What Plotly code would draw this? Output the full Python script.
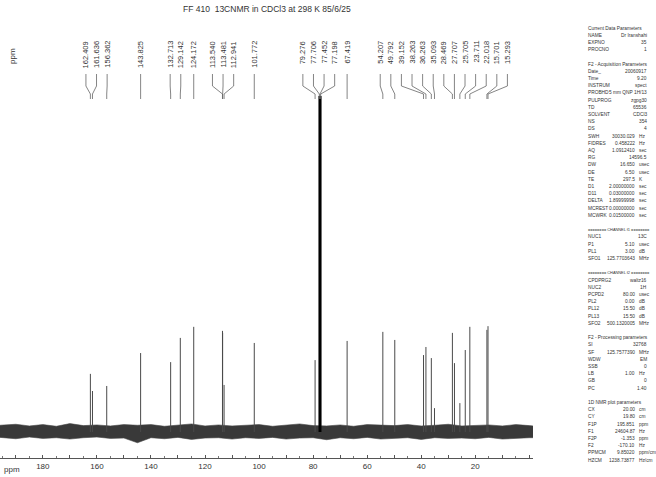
import plotly.graph_objects as go

W, H = 656, 477

# ---------------- data ----------------
peak_ppm = [162.409, 161.636, 156.362, 143.825, 132.713, 129.142, 124.172,
            113.540, 113.481, 112.941, 101.772, 79.276, 77.706, 77.452, 77.198,
            67.419, 54.207, 49.792, 39.152, 38.263, 36.263, 35.093, 28.469,
            27.707, 25.705, 23.711, 22.018, 15.701, 15.293]
peak_int = [17.3, 12.2, 13.7, 23.5, 20.8, 28.0, 31.3,
            30.1, 29.5, 14.0, 26.5, 21.4, 100, 100, 100,
            27.1, 29.8, 27.4, 22.9, 25.3, 22.0, 7.1, 29.5,
            20.5, 8.6, 24.4, 31.3, 30.4, 31.5]

noise_ppm = [195.85, 190, 185, 180, 175, 170, 165, 160, 155, 150, 145, 140, 135, 130,
             125, 120, 115, 110, 105, 100, 95, 90, 85, 80, 75, 70, 65, 60, 55, 50,
             45, 40, 35, 30, 25, 20, 15, 10, 5, 0, -1.35]
noise_upper = [2.0, 2.3, 1.8, 2.2, 1.7, 2.5, 1.9, 2.1, 1.8, 2.2, 2.0, 2.2, 1.7, 2.0,
               2.4, 1.8, 2.1, 1.8, 2.0, 2.2, 1.7, 2.0, 2.4, 1.9, 1.8, 2.1, 1.7, 2.2,
               2.0, 1.9, 2.2, 1.8, 2.0, 2.3, 1.8, 2.0, 2.1, 1.8, 2.2, 1.9, 1.8]
noise_lower = [-1.6, -2.0, -1.5, -1.9, -1.7, -2.1, -1.7, -1.5, -1.9, -1.8, -3.2, -1.7,
               -2.0, -1.6, -2.2, -1.8, -1.7, -2.1, -1.7, -1.9, -1.6, -2.1, -1.8, -1.7,
               -2.3, -1.7, -2.0, -1.6, -2.1, -1.9, -1.7, -2.2, -1.7, -1.9, -1.8, -2.0,
               -1.6, -2.1, -1.8, -1.7, -1.7]

tick_vals = [0, 10, 20, 30, 40, 50, 60, 70, 80, 90, 100, 110, 120, 130, 140, 150,
             160, 170, 180, 190]
tick_labels = ["", "", "20", "", "40", "", "60", "", "80", "", "100", "", "120", "",
               "140", "", "160", "", "180", ""]

title_text = "FF 410\u00a0\u00a013CNMR in CDCl3 at 298 K 85/6/25"
F1P, F2P = 195.851, -1.353

param_names = ["Current Data Parameters", "NAME", "EXPNO", "PROCNO", "",
               "F2 - Acquisition Parameters", "Date_", "Time", "INSTRUM", "PROBHD",
               "PULPROG", "TD", "SOLVENT", "NS", "DS", "SWH", "FIDRES", "AQ", "RG",
               "DW", "DE", "TE", "D1", "D11", "DELTA", "MCREST", "MCWRK", "",
               "======== CHANNEL f1 ========", "NUC1", "P1", "PL1", "SFO1", "",
               "======== CHANNEL f2 ========", "CPDPRG2", "NUC2", "PCPD2", "PL2",
               "PL12", "PL13", "SFO2", "",
               "F2 - Processing parameters", "SI", "SF", "WDW", "SSB", "LB", "GB",
               "PC", "", "1D NMR plot parameters", "CX", "CY", "F1P", "F1", "F2P",
               "F2", "PPMCM", "HZCM"]
param_values = ["", "Dr Iranshahi", "35", "1", "",
                "", "20060917", "9.20", "spect", "5 mm QNP 1H/13",
                "zgpg30", "65536", "CDCl3", "354", "4", "30030.029", "0.458222",
                "1.0912410", "14596.5", "16.650", "6.50", "297.5", "2.00000000",
                "0.03000000", "1.89999998", "0.00000000", "0.01500000", "",
                "", "13C", "5.10", "3.00", "125.7703643", "",
                "", "waltz16", "1H", "80.00", "0.00", "15.50", "15.50", "500.1320005", "",
                "", "32768", "125.7577390", "EM", "0", "1.00", "0", "1.40", "",
                "", "20.00", "19.80", "195.851", "24604.87", "-1.353", "-170.10",
                "9.85020", "1238.73877"]
param_units = ["", "", "", "", "",
               "", "", "", "", "",
               "", "", "", "", "", "Hz", "Hz", "sec", "", "usec", "usec", "K", "sec",
               "sec", "sec", "sec", "sec", "",
               "", "", "usec", "dB", "MHz", "",
               "", "", "", "usec", "dB", "dB", "dB", "MHz", "",
               "", "", "MHz", "", "", "Hz", "", "", "",
               "", "cm", "cm", "ppm", "Hz", "ppm", "Hz", "ppm/cm", "Hz/cm"]

# ---------------- layout helpers ----------------
PLOT_W = 533          # width of the spectrum area in px
BASE_PX = 432         # baseline pixel row
TOP_PX = 96           # top of plot area
AXIS_PX = 458         # x axis line row
UNIT_PX = (BASE_PX - TOP_PX) / 100.0


def xp(px):
    return px / W


def yp(py):
    return 1 - py / H


def ppm_to_px(v):
    return (F1P - v) / (F1P - F2P) * PLOT_W


def px_to_ppm(p):
    return F1P - p / PLOT_W * (F1P - F2P)


# spread labels (cluster centring)
GAP = 10.6
order = sorted(range(len(peak_ppm)), key=lambda i: ppm_to_px(peak_ppm[i]))
clusters = [[i] for i in order]


def cluster_start(c):
    m = sum(ppm_to_px(peak_ppm[i]) for i in c) / len(c)
    return m - GAP * (len(c) - 1) / 2


changed = True
while changed:
    changed = False
    for k in range(len(clusters) - 1):
        a, b = clusters[k], clusters[k + 1]
        end_a = cluster_start(a) + GAP * (len(a) - 1)
        if cluster_start(b) - end_a < GAP - 1e-9:
            clusters[k] = a + b
            del clusters[k + 1]
            changed = True
            break

label_px = {}
for c in clusters:
    s = cluster_start(c)
    for j, i in enumerate(c):
        label_px[i] = s + GAP * j

# ---------------- figure ----------------
fig = go.Figure()

# noise band
fig.add_trace(go.Scatter(x=noise_ppm, y=noise_lower, mode="lines",
                         line=dict(color="#444444", width=0.6), hoverinfo="skip",
                         showlegend=False))
fig.add_trace(go.Scatter(x=noise_ppm, y=noise_upper, mode="lines", fill="tonexty",
                         fillcolor="rgba(35,35,35,0.9)",
                         line=dict(color="#444444", width=0.6), hoverinfo="skip",
                         showlegend=False))

# peaks
px_, py_ = [], []
sx, sy = [], []
for v, h in zip(peak_ppm, peak_int):
    px_ += [v, v, None]
    py_ += [0, h, None]
    if h >= 100:
        sx += [v, v, None]
        sy += [0, h, None]
fig.add_trace(go.Scatter(x=px_, y=py_, mode="lines", line=dict(color="#4a4a4a", width=1),
                         hoverinfo="skip", showlegend=False))
fig.add_trace(go.Scatter(x=sx, y=sy, mode="lines", line=dict(color="#000000", width=1.6),
                         hoverinfo="skip", showlegend=False))

shapes = []
annotations = []

# peak labels and leader lines
label_font = dict(family="Liberation Sans, Arial, sans-serif", size=7.5, color="#333333")
for i, v in enumerate(peak_ppm):
    lx = px_to_ppm(label_px[i])
    annotations.append(dict(x=lx, xref="x", y=yp(40), yref="paper", text=f"{v:.3f}",
                            textangle=-90, showarrow=False, xanchor="center",
                            yanchor="top", font=label_font, borderpad=0))
    path = (f"M {lx},{yp(74)} L {lx},{yp(86)} L {v},{yp(94)} L {v},{yp(99)}")
    shapes.append(dict(type="path", xref="x", yref="paper", path=path,
                       line=dict(color="#666666", width=0.8)))

# title
annotations.append(dict(x=xp(267), y=yp(9), xref="paper", yref="paper", text=title_text,
                        showarrow=False, xanchor="center", yanchor="middle",
                        font=dict(family="Liberation Sans, Arial, sans-serif", size=8.5,
                                  color="#333333")))
# ppm labels
annotations.append(dict(x=xp(12), y=yp(56), xref="paper", yref="paper", text="ppm",
                        textangle=-90, showarrow=False, xanchor="center", yanchor="middle",
                        font=dict(family="Liberation Sans, Arial, sans-serif", size=8,
                                  color="#333333")))
annotations.append(dict(x=xp(2), y=yp(469), xref="paper", yref="paper", text="ppm",
                        showarrow=False, xanchor="left", yanchor="middle",
                        font=dict(family="Liberation Sans, Arial, sans-serif", size=8,
                                  color="#333333")))

# parameter panel
pfont = dict(family="Liberation Sans, Arial, sans-serif", size=4.8, color="#333333")
hfont = dict(family="Liberation Sans, Arial, sans-serif", size=3.9, color="#333333")
for k, (n, val, u) in enumerate(zip(param_names, param_values, param_units)):
    yy = yp(28 + 7.2 * k)
    if n:
        annotations.append(dict(x=xp(587), y=yy, xref="paper", yref="paper", text=n,
                                showarrow=False, xanchor="left", yanchor="middle",
                                font=hfont if n.startswith("=") else pfont, borderpad=0))
    if val:
        if u:
            annotations.append(dict(x=xp(636), y=yy, xref="paper", yref="paper", text=val,
                                    showarrow=False, xanchor="right", yanchor="middle",
                                    font=pfont, borderpad=0))
            annotations.append(dict(x=xp(638), y=yy, xref="paper", yref="paper", text=u,
                                    showarrow=False, xanchor="left", yanchor="middle",
                                    font=pfont, borderpad=0))
        else:
            annotations.append(dict(x=xp(648), y=yy, xref="paper", yref="paper", text=val,
                                    showarrow=False, xanchor="right", yanchor="middle",
                                    font=pfont, borderpad=0))

y_lo = -(AXIS_PX - BASE_PX) / UNIT_PX

fig.update_layout(
    width=W, height=H, autosize=False,
    margin=dict(l=0, r=0, t=0, b=0),
    paper_bgcolor="white", plot_bgcolor="white",
    showlegend=False,
    shapes=shapes, annotations=annotations,
    xaxis=dict(domain=[0, PLOT_W / W], range=[F1P, F2P], showgrid=False, zeroline=False,
               showline=True, linecolor="#555555", linewidth=1,
               ticks="inside", ticklen=3, tickcolor="#555555", tickwidth=1,
               tickmode="array", tickvals=tick_vals, ticktext=tick_labels,
               tickfont=dict(family="Liberation Sans, Arial, sans-serif", size=8,
                             color="#333333"),
               minor=dict(ticks="inside", ticklen=2, dtick=5, tickcolor="#777777"),
               automargin=False, fixedrange=True),
    yaxis=dict(domain=[yp(AXIS_PX), yp(TOP_PX)], range=[y_lo, 100], visible=False,
               showgrid=False, zeroline=False, fixedrange=True),
)

fig.write_html("out.html", config={"displayModeBar": False},
               post_script="document.body.style.margin='0';document.body.style.padding='0';")
